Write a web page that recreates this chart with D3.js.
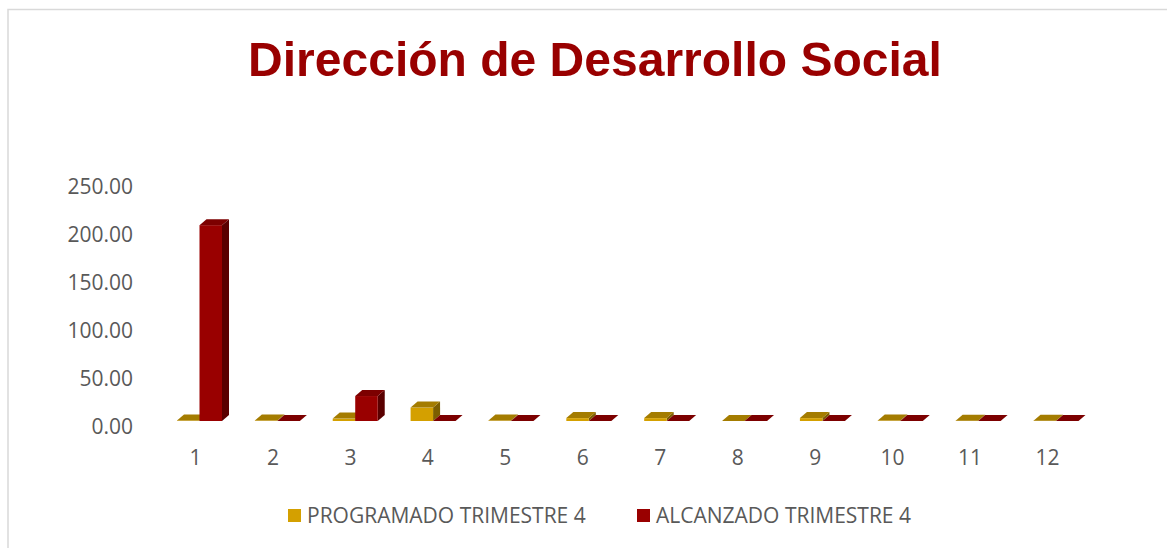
<!DOCTYPE html>
<html>
<head>
<meta charset="utf-8">
<script src="https://cdn.jsdelivr.net/npm/d3@7"></script>
<style>
  body { margin: 0; background: #ffffff; }
  svg { display: block; }
</style>
</head>
<body>
<div id="chart"></div>
<script>
// data
const categories = ['1', '2', '3', '4', '5', '6', '7', '8', '9', '10', '11', '12'];
const programado = [0.5, 0.5, 2.5, 14, 0.5, 3, 3, 0, 3, 0.5, 0.3, 0.3];
const alcanzado = [204, 0, 26, 0, 0, 0, 0, 0, 0, 0, 0, 0];
const yTicks = [0, 50, 100, 150, 200, 250];
const seriesNames = ['PROGRAMADO TRIMESTRE 4', 'ALCANZADO TRIMESTRE 4'];
const chartTitle = 'Dirección de Desarrollo Social';

const width = 1167, height = 548;
const textFont = '"Open Sans", sans-serif';

// face colours for the fake 3D columns: front, top, side
const palette = [
    { front: '#d4a000', top: '#a47c00', side: '#7c5e00' },
    { front: '#990000', top: '#7c0000', side: '#5a0000' }
];

const svg = d3.select('#chart').append('svg')
    .attr('width', width)
    .attr('height', height);

svg.append('rect')
    .attr('width', width).attr('height', height)
    .attr('fill', '#ffffff');

// chart frame, runs off the right / bottom of the picture
svg.append('rect')
    .attr('x', 8).attr('y', 9.5)
    .attr('width', 1300).attr('height', 700)
    .attr('fill', 'none')
    .attr('stroke', '#d9d9d9')
    .attr('stroke-width', 1.5);

// title, sized to the width it takes in the picture
const title = svg.append('text')
    .text(chartTitle)
    .attr('x', 595)
    .attr('y', 76)
    .attr('text-anchor', 'middle')
    .style('font-family', '"Liberation Sans", Arial, sans-serif')
    .style('font-weight', 'bold')
    .style('font-size', '50px')
    .attr('fill', '#990000');
const tw = title.node().getComputedTextLength();
title.style('font-size', (50 * 694 / tw) + 'px');

// scales
const xLabel = d3.scalePoint().domain(categories).range([195, 1047]);
const xBar = d3.scalePoint().domain(categories).range([199.5, 1056]);
const yAxisScale = d3.scaleLinear().domain([0, 250]).range([427, 187]);
const yBar = d3.scaleLinear().domain([0, 250]).range([421, 181]);

const barW = 22.5;
const dx = 7, dy = -6;

// y axis labels
const yAxis = svg.append('g')
    .attr('transform', 'translate(133,0)')
    .call(d3.axisLeft(yAxisScale).tickValues(yTicks).tickSize(0).tickPadding(0).tickFormat(d3.format('.2f')));
yAxis.select('.domain').remove();
yAxis.selectAll('text')
    .style('font-family', textFont)
    .style('font-size', '21px')
    .attr('fill', '#595959');

// x axis labels
const xAxis = svg.append('g')
    .attr('transform', 'translate(0,450)')
    .call(d3.axisBottom(xLabel).tickSize(0).tickPadding(0));
xAxis.select('.domain').remove();
xAxis.selectAll('text')
    .style('font-family', textFont)
    .style('font-size', '21px')
    .attr('fill', '#595959');

// one row per column, drawn left to right so the red ones sit over the gold sides
const bars = [];
categories.forEach((c, i) => {
    bars.push({ cat: c, s: 0, value: programado[i] });
    bars.push({ cat: c, s: 1, value: alcanzado[i] });
});

const g = svg.append('g').selectAll('g')
    .data(bars)
    .enter().append('g');

const geom = d => {
    const x = d.s === 0 ? xBar(d.cat) - barW : xBar(d.cat);
    return { x: x, top: yBar(d.value), base: yBar(0) };
};

// side face
g.append('path')
    .attr('d', d => {
        const b = geom(d);
        const r = b.x + barW;
        return `M${r},${b.top}L${r + dx},${b.top + dy}L${r + dx},${b.base + dy}L${r},${b.base}Z`;
    })
    .attr('fill', d => palette[d.s].side);

// front face
g.append('rect')
    .attr('x', d => geom(d).x)
    .attr('y', d => geom(d).top)
    .attr('width', barW)
    .attr('height', d => geom(d).base - geom(d).top)
    .attr('fill', d => palette[d.s].front);

// top face
g.append('path')
    .attr('d', d => {
        const b = geom(d);
        return `M${b.x},${b.top}L${b.x + dx},${b.top + dy}L${b.x + barW + dx},${b.top + dy}L${b.x + barW},${b.top}Z`;
    })
    .attr('fill', d => palette[d.s].top);

// legend
const legendX = [288, 637];
const legend = svg.append('g').selectAll('g')
    .data(seriesNames)
    .enter().append('g')
    .attr('transform', (d, i) => 'translate(' + legendX[i] + ',509)');

legend.append('rect')
    .attr('width', 13).attr('height', 13)
    .attr('fill', (d, i) => palette[i].front);

legend.append('text')
    .text(d => d)
    .attr('x', 19)
    .attr('y', 14)
    .style('font-family', textFont)
    .style('font-size', '21px')
    .attr('fill', '#595959');
</script>
</body>
</html>
